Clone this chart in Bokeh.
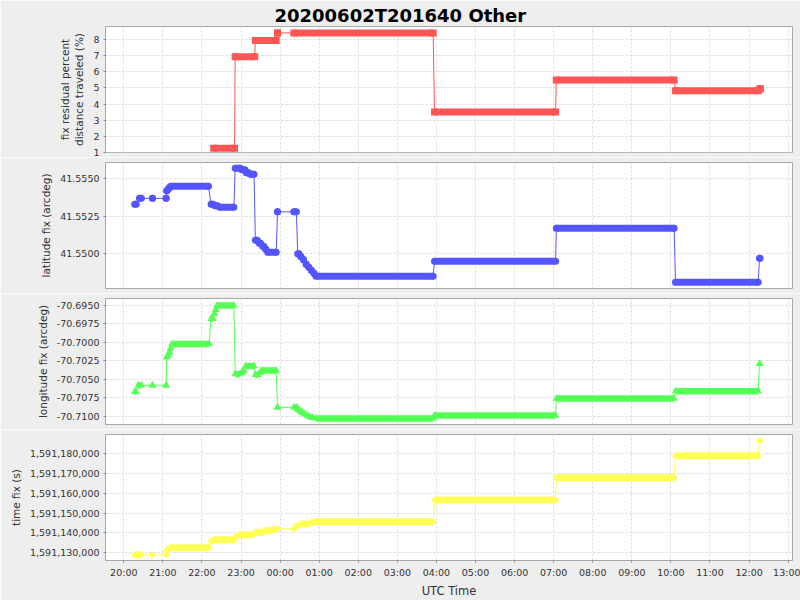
import math
import pandas as pd
from bokeh.plotting import figure
from bokeh.layouts import column
from bokeh.models import (ColumnDataSource, Range1d, FixedTicker,
                          NumeralTickFormatter, DatetimeTickFormatter)
from bokeh.embed import file_html
from bokeh.resources import INLINE

# ---------------- data ----------------
TITLE = "20200602T201640 Other"
X_LABEL = "UTC Time"
HOUR_TICKS = ["20:00", "21:00", "22:00", "23:00", "00:00", "01:00", "02:00",
              "03:00", "04:00", "05:00", "06:00", "07:00", "08:00", "09:00",
              "10:00", "11:00", "12:00", "13:00"]
X_VIEW = ["19:31:54", "13:06:40"]

PCT_LABEL = "fix residual percent\ndistance traveled (%)"
PCT_TICKS = [1, 2, 3, 4, 5, 6, 7, 8]
PCT_VIEW = [0.98, 8.83]
PCT_START = ["22:18", "22:51", "23:22", "23:56", "00:21", "03:57", "07:04", "10:07", "12:17"]
PCT_END   = ["22:50", "23:21", "23:54", "23:56", "03:55", "07:03", "10:05", "12:14", "12:17"]
PCT_VAL   = [1.25, 6.95, 7.95, 8.43, 8.43, 3.50, 5.50, 4.82, 4.95]

LAT_LABEL = "latitude fix (arcdeg)"
LAT_TICKS = [41.5500, 41.5525, 41.5550]
LAT_VIEW = [41.54769, 41.55609]
LAT_START = ["20:16:40", "20:24", "20:44", "21:05", "21:06", "21:08", "21:10", "21:12",
             "22:14", "22:20", "22:27", "22:51", "23:01", "23:08", "23:14",
             "23:22", "23:28", "23:33", "23:38", "23:41", "23:56", "00:21",
             "00:27", "00:32", "00:36", "00:40", "00:44", "00:48", "00:52",
             "00:55", "03:57", "07:04", "10:07", "12:16"]
LAT_END   = ["20:19", "20:27", "20:44", "21:05", "21:06", "21:08", "21:10", "22:10",
             "22:17", "22:24", "22:49", "22:59", "23:06", "23:12", "23:20",
             "23:25", "23:30", "23:35", "23:38", "23:54", "23:56", "00:25",
             "00:29", "00:32", "00:36", "00:40", "00:44", "00:48", "00:52",
             "03:55", "07:03", "10:05", "12:14", "12:17"]
LAT_VAL   = [41.5533, 41.5537, 41.5537, 41.5537, 41.5542, 41.5543, 41.5544, 41.5545,
             41.5533, 41.5532, 41.5531, 41.5557, 41.5556, 41.5554, 41.5553,
             41.5509, 41.5507, 41.5505, 41.5503, 41.5501, 41.5528, 41.5528,
             41.5500, 41.5498, 41.5496, 41.5493, 41.5491, 41.5489, 41.5487,
             41.5485, 41.5495, 41.5517, 41.5481, 41.5497]

LON_LABEL = "longitude fix (arcdeg)"
LON_TICKS = [-70.7100, -70.7075, -70.7050, -70.7025, -70.7000, -70.6975, -70.6950]
LON_VIEW = [-70.71112, -70.69405]
LON_START = ["20:16:40", "20:22", "20:44", "21:05", "21:06", "21:08", "21:10", "21:12",
             "21:14", "22:14", "22:19", "22:21", "22:23", "22:51", "23:01", "23:04",
             "23:07", "23:22", "23:29", "23:32", "23:56", "00:21", "00:28", "00:31",
             "00:34", "00:38", "00:42", "00:46", "00:50", "00:55", "03:57", "07:04",
             "10:07", "12:16"]
LON_END   = ["20:19", "20:27", "20:44", "21:05", "21:06", "21:08", "21:10", "21:12",
             "22:11", "22:17", "22:19", "22:21", "22:49", "22:58", "23:01", "23:04",
             "23:20", "23:26", "23:29", "23:54", "23:56", "00:26", "00:28", "00:31",
             "00:34", "00:38", "00:42", "00:46", "00:50", "03:55", "07:03", "10:05",
             "12:14", "12:17"]
LON_VAL   = [-70.7067, -70.7058, -70.7058, -70.7058, -70.7020, -70.7017, -70.7013, -70.7008,
             -70.7002, -70.6968, -70.6961, -70.6956, -70.6950, -70.7043, -70.7041, -70.7038,
             -70.7032, -70.7044, -70.7041, -70.7038, -70.7088, -70.7088, -70.7091, -70.7093,
             -70.7095, -70.7097, -70.7099, -70.7101, -70.7102, -70.7103, -70.7099, -70.7076,
             -70.7066, -70.7029]

TFX_LABEL = "time fix (s)"
TFX_TICKS = [1591130000, 1591140000, 1591150000, 1591160000, 1591170000, 1591180000]
TFX_VIEW = [1591126100, 1591189750]
TFX_START = ["20:16:40", "20:44", "21:05", "21:06", "21:08", "21:11", "22:14", "22:18",
             "22:51", "22:56", "23:22", "23:36", "23:48", "23:56", "00:21", "00:24",
             "00:27", "00:32", "00:47", "00:55", "03:57", "07:04", "10:07", "12:16"]
TFX_END   = ["20:27", "20:44", "21:05", "21:06", "21:08", "22:11", "22:16", "22:49",
             "22:53", "23:19", "23:33", "23:45", "23:54", "23:56", "00:21", "00:24",
             "00:29", "00:44", "00:52", "03:55", "07:03", "10:05", "12:14", "12:17"]
TFX_VAL   = [1591129000, 1591129000, 1591129000, 1591131000, 1591132000, 1591132500,
             1591135900, 1591136600, 1591137900, 1591139100, 1591140400, 1591141100,
             1591141800, 1591142100, 1591142100, 1591143300, 1591143900, 1591144600,
             1591145400, 1591145700, 1591156600, 1591167900, 1591179000, 1591186600]

# ---------------- helpers ----------------
FONT = "DejaVu Sans"
RED, BLUE, GREEN, YELLOW = "#ff5555", "#5555ff", "#55ff55", "#ffff55"


def to_ms(s):
    day = "2020-06-02" if int(s[:2]) >= 19 else "2020-06-03"
    return pd.Timestamp(f"{day} {s}").value / 1e6


x_tick_ms = [to_ms(t) for t in HOUR_TICKS]
x_range = Range1d(start=to_ms(X_VIEW[0]), end=to_ms(X_VIEW[1]))


def style_axis(ax):
    ax.major_label_text_font = FONT
    ax.major_label_text_font_size = "9.5px"
    ax.major_label_text_color = "#333333"
    ax.axis_label_text_font = FONT
    ax.axis_label_text_font_size = "10.5px"
    ax.axis_label_text_font_style = "normal"
    ax.axis_label_text_color = "#333333"
    ax.major_tick_out = 2
    ax.major_tick_in = 0
    ax.minor_tick_out = 0
    ax.minor_tick_in = 0
    ax.minor_tick_line_color = None
    ax.major_tick_line_color = "#888888"
    ax.axis_line_color = "#a8a8a8"
    ax.major_label_standoff = 4
    ax.axis_label_standoff = 5


def make_panel(height, y_view, y_ticks, y_fmt, y_label, top, bottom, show_x):
    p = figure(width=800, height=height, x_axis_type="datetime", x_range=x_range,
               y_range=Range1d(start=y_view[0], end=y_view[1]),
               output_backend="svg", toolbar_location=None,
               min_border_left=105, min_border_right=8,
               min_border_top=top, min_border_bottom=bottom)
    p.background_fill_color = "white"
    p.border_fill_color = "#eeeeee"
    p.outline_line_color = "#a8a8a8"
    p.outline_line_width = 1
    yt = FixedTicker(ticks=y_ticks)
    p.yaxis.ticker = yt
    p.ygrid.ticker = yt
    xt = FixedTicker(ticks=x_tick_ms)
    p.xaxis.ticker = xt
    p.xgrid.ticker = xt
    for g in (p.xgrid, p.ygrid):
        g.grid_line_color = "#d8d8d8"
        g.grid_line_dash = "2 2"
        g.grid_line_width = 1
    p.yaxis.formatter = NumeralTickFormatter(format=y_fmt)
    p.yaxis.axis_label = y_label
    style_axis(p.yaxis)
    style_axis(p.xaxis)
    p.xaxis.axis_label_text_font_size = "11.5px"
    p.xaxis.axis_label_standoff = 3
    p.xaxis.formatter = DatetimeTickFormatter(
        hours="%H:%M", hourmin="%H:%M", days="%H:%M", minutes="%H:%M",
        minsec="%H:%M", strip_leading_zeros=False)
    if show_x:
        p.xaxis.axis_label = X_LABEL
    else:
        p.xaxis.visible = False
    return p


def add_series(p, starts, ends, vals, color, marker, size, angle=0.0, band=7):
    s = [to_ms(t) for t in starts]
    e = [to_ms(t) for t in ends]
    src = ColumnDataSource(dict(s=s, e=e, v=vals))
    lx, ly = [], []
    for a, b, v in zip(s, e, vals):
        lx += [a, b]
        ly += [v, v]
    p.line(lx, ly, line_color=color, line_width=1)
    p.segment(x0="s", y0="v", x1="e", y1="v", source=src, line_color=color,
              line_width=band, line_cap="butt")
    for col in ("s", "e"):
        p.scatter(x=col, y="v", source=src, marker=marker, size=size, angle=angle,
                  fill_color=color, line_color=None)


p1 = make_panel(157, PCT_VIEW, PCT_TICKS, "0", PCT_LABEL, 26, 5, False)
add_series(p1, PCT_START, PCT_END, PCT_VAL, RED, "square", 7)
p1.title.text = TITLE
p1.title.text_font = FONT
p1.title.text_font_size = "18px"
p1.title.text_font_style = "bold"
p1.title.text_color = "black"
p1.title.align = "left"
p1.title.offset = 169
p1.title.standoff = 0
p1.title.vertical_align = "middle"

p2 = make_panel(136, LAT_VIEW, LAT_TICKS, "0.0000", LAT_LABEL, 5, 5, False)
add_series(p2, LAT_START, LAT_END, LAT_VAL, BLUE, "circle", 7)

p3 = make_panel(136, LON_VIEW, LON_TICKS, "0.0000", LON_LABEL, 5, 5, False)
add_series(p3, LON_START, LON_END, LON_VAL, GREEN, "triangle", 7.5, band=6.5)

p4 = make_panel(171, TFX_VIEW, TFX_TICKS, "0,0", TFX_LABEL, 5, 40, True)
add_series(p4, TFX_START, TFX_END, TFX_VAL, YELLOW, "square", 4.95, angle=math.pi / 4)

layout = column(p1, p2, p3, p4, spacing=0)
open("out.html", "w").write(file_html(layout, INLINE))
